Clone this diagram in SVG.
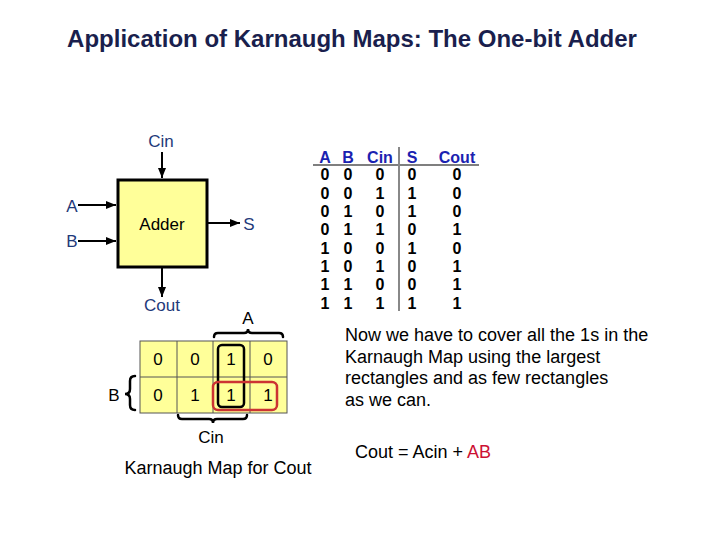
<svg xmlns="http://www.w3.org/2000/svg" width="720" height="540" viewBox="0 0 720 540">
<defs>
<style>
text{font-family:"Liberation Sans",Arial,sans-serif}
.title{font-size:24px;font-weight:bold;fill:#1a1f4d}
.lbl{font-size:17px;fill:#1f3a7a}
.blk{font-size:17px;fill:#000}
.txt{font-size:18px;fill:#000}
.hd{font-size:16px;font-weight:bold;fill:#1a22b0}
.td{font-size:16px;font-weight:bold;fill:#000}
.kv{font-size:17px;fill:#000}
.wire{stroke:#000;stroke-width:2;fill:none}
.brace{stroke:#000;stroke-width:2.5;fill:none;stroke-linecap:round}
</style>
<marker id="ah" viewBox="0 0 10 10" refX="10" refY="5" markerWidth="5" markerHeight="5" orient="auto" markerUnits="strokeWidth">
<path d="M0,1 L10,5 L0,9 z" fill="#000"/>
</marker>
</defs>
<rect width="720" height="540" fill="#fff"/>
<text class="title" x="352" y="47" text-anchor="middle">Application of Karnaugh Maps: The One-bit Adder</text>

<g id="connectors">
<line class="wire" x1="162" y1="152" x2="162" y2="178" marker-end="url(#ah)"/>
<line class="wire" x1="78" y1="205" x2="116" y2="205" marker-end="url(#ah)"/>
<line class="wire" x1="78" y1="241" x2="116" y2="241" marker-end="url(#ah)"/>
<line class="wire" x1="208" y1="223" x2="240" y2="223" marker-end="url(#ah)"/>
<line class="wire" x1="162" y1="268" x2="162" y2="297" marker-end="url(#ah)"/>
</g>

<g id="adder">
<rect x="118" y="180" width="89" height="87" fill="#ffff99" stroke="#000" stroke-width="3"/>
<text class="blk" x="162" y="230" text-anchor="middle">Adder</text>
</g>
<g id="label-cin"><text class="lbl" x="161" y="147" text-anchor="middle">Cin</text></g>
<g id="label-a"><text class="lbl" x="72" y="212" text-anchor="middle">A</text></g>
<g id="label-b"><text class="lbl" x="72" y="247" text-anchor="middle">B</text></g>
<g id="label-s"><text class="lbl" x="249" y="230" text-anchor="middle">S</text></g>
<g id="label-cout"><text class="lbl" x="162" y="311" text-anchor="middle">Cout</text></g>

<g id="truth-table">
<text class="hd" x="325" y="163" text-anchor="middle">A</text>
<text class="hd" x="348" y="163" text-anchor="middle">B</text>
<text class="hd" x="380" y="163" text-anchor="middle">Cin</text>
<text class="hd" x="412" y="163" text-anchor="middle">S</text>
<text class="hd" x="457" y="163" text-anchor="middle">Cout</text>
<line x1="313" y1="165" x2="479" y2="165" stroke="#555" stroke-width="1.5"/>
<line x1="399" y1="147" x2="399" y2="311" stroke="#888" stroke-width="2"/>
<g class="td" text-anchor="middle">
<text x="325" y="180">0</text><text x="348" y="180">0</text><text x="380" y="180">0</text><text x="412" y="180">0</text><text x="457" y="180">0</text>
<text x="325" y="199">0</text><text x="348" y="199">0</text><text x="380" y="199">1</text><text x="412" y="199">1</text><text x="457" y="199">0</text>
<text x="325" y="217">0</text><text x="348" y="217">1</text><text x="380" y="217">0</text><text x="412" y="217">1</text><text x="457" y="217">0</text>
<text x="325" y="235">0</text><text x="348" y="235">1</text><text x="380" y="235">1</text><text x="412" y="235">0</text><text x="457" y="235">1</text>
<text x="325" y="254">1</text><text x="348" y="254">0</text><text x="380" y="254">0</text><text x="412" y="254">1</text><text x="457" y="254">0</text>
<text x="325" y="272">1</text><text x="348" y="272">0</text><text x="380" y="272">1</text><text x="412" y="272">0</text><text x="457" y="272">1</text>
<text x="325" y="290">1</text><text x="348" y="290">1</text><text x="380" y="290">0</text><text x="412" y="290">0</text><text x="457" y="290">1</text>
<text x="325" y="309">1</text><text x="348" y="309">1</text><text x="380" y="309">1</text><text x="412" y="309">1</text><text x="457" y="309">1</text>
</g>
</g>

<g id="kmap">
<rect x="140" y="341" width="147" height="72" fill="#ffff99" stroke="#555" stroke-width="1"/>
<g stroke="#555" stroke-width="1">
<line x1="177" y1="341" x2="177" y2="413"/>
<line x1="213" y1="341" x2="213" y2="413"/>
<line x1="250" y1="341" x2="250" y2="413"/>
<line x1="140" y1="377" x2="287" y2="377"/>
</g>
<g class="kv" text-anchor="middle">
<text x="158" y="365">0</text><text x="195" y="365">0</text><text x="231" y="365">1</text><text x="268" y="365">0</text>
<text x="158" y="401">0</text><text x="195" y="401">1</text><text x="231" y="401">1</text><text x="268" y="401">1</text>
</g>
<rect x="218" y="345" width="26" height="62" rx="4" fill="none" stroke="#000" stroke-width="2.5"/>
<rect x="213" y="382" width="64" height="28" rx="5" fill="none" stroke="#cc3333" stroke-width="2.5"/>
<path class="brace" d="M214,337 Q214,333 218,333 L244,333 Q248,333 248,329 Q248,333 252,333 L279,333 Q283,333 283,337"/>
<path class="brace" d="M135,376 Q130,376 130,381 L130,389 Q130,394 125,394 Q130,394 130,399 L130,405 Q130,410 135,410"/>
<path class="brace" d="M178,415 Q178,419 182,419 L209,419 Q213,419 213,423 Q213,419 217,419 L243,419 Q247,419 247,415"/>
<text class="blk" x="248" y="324" text-anchor="middle">A</text>
<text class="blk" x="114" y="401" text-anchor="middle">B</text>
<text class="blk" x="211" y="443" text-anchor="middle">Cin</text>
<text class="txt" x="218" y="474" text-anchor="middle">Karnaugh Map for Cout</text>
</g>

<g id="note">
<text class="txt" x="345" y="341">Now we have to cover all the 1s in the</text>
<text class="txt" x="345" y="363">Karnaugh Map using the largest</text>
<text class="txt" x="345" y="384">rectangles and as few rectangles</text>
<text class="txt" x="345" y="406">as we can.</text>
<text class="txt" x="355" y="458">Cout = Acin + <tspan fill="#cc1133">AB</tspan></text>
</g>
</svg>
